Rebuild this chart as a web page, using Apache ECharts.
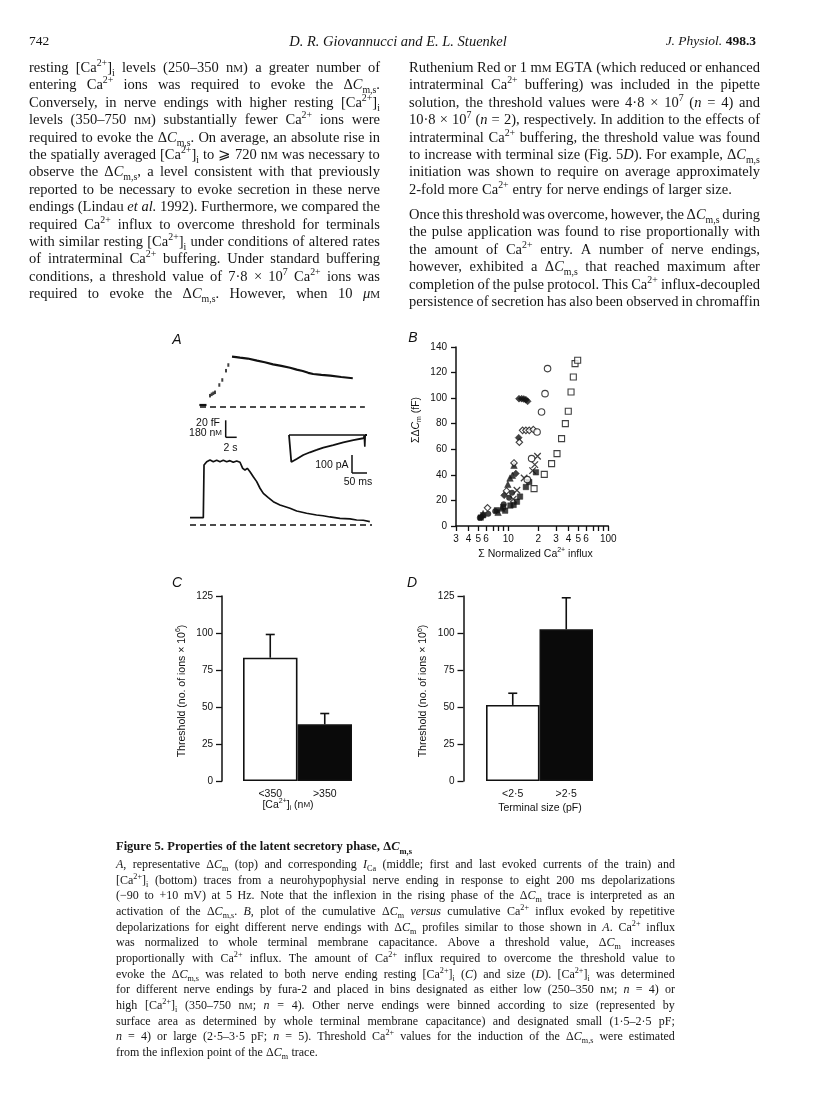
<!DOCTYPE html>
<html><head><meta charset="utf-8">
<script src="https://cdn.jsdelivr.net/npm/echarts@6/dist/echarts.min.js"></script>
<style>
html,body{margin:0;padding:0;background:#fff;}
#page{position:relative;width:816px;height:1110px;overflow:hidden;background:#fff;}
#chart{position:absolute;left:0;top:0;width:816px;height:1110px;}
.ln{position:absolute;display:flex;align-items:baseline;justify-content:space-between;white-space:nowrap;font-family:"Liberation Serif",serif;color:#151515;}
.ln.lf{justify-content:flex-start;column-gap:0.27em;}
.ln sub,.ln sup{font-size:68%;line-height:0;}
.ln small{font-size:76%;}
.hd{position:absolute;font-family:"Liberation Serif",serif;color:#151515;white-space:nowrap;}
</style></head>
<body><div id="page"><div id="chart"></div></div>
<script>
// ---------------- DATA ----------------
// Panel A: top trace, cumulative ΔCm (time s, fF)
const cmBaseline = [[1.7,2.35],[3.0,2.35]];
const cmRiseDots = [[3.64,13.3],[3.94,14.9],[4.24,16.1],[4.55,17.3],[5.33,25.9],[5.87,31.8],[6.55,42.7],[6.97,49.4]];
const cmTrace = [[7.64,59.2],[8.4,58.6],[9.09,58.0],[10.5,57.0],[12.2,54.5],[13.6,52.6],[15.1,50.2],[16.6,48.4],[18.2,46.2],[19.4,44.0],[20.5,42.4],[21.5,40.2],[22.4,38.8],[23.9,37.8],[25.5,36.8],[27.5,35.3],[29.6,33.8]];
const cmZero = [[1.82,0],[31.8,0]];
// Panel A: bottom trace, [Ca2+]i (time s, nM)
const caTrace = [[0,77],[2.42,77],[2.55,635],[3.04,670],[3.64,688],[4.24,670],[4.85,685],[5.45,670],[6.05,685],[6.67,670],[7.27,681],[7.87,664],[8.49,678],[9.09,664],[9.58,600],[10.0,582],[10.42,600],[10.91,564],[11.51,511],[12.13,459],[12.73,389],[13.33,335],[14.24,289],[15.15,247],[16.36,212],[18.18,177],[19.4,148],[21.2,124],[23.0,106],[24.2,98],[25.45,85],[27.27,71],[29.1,64],[30.3,53],[31.5,50],[32.7,35]];
const caZero = [[0,0],[33.1,0]];
// Panel A inset: ICa (ms, pA)
const icaFirst = [[13.3,0],[21,-150],[22.2,-148],[38.9,-133],[61,-111],[83.3,-96],[105.6,-83],[127.8,-70],[161,-56],[194.4,-41],[227.8,-28],[261,-18],[266.7,-15],[268,0],[273.3,0]];
const icaLast = [[13.3,0],[264,0],[266,-65],[267.5,0],[273.3,0]];
// Panel A scale bars
const scaleCm = 20, scaleCa = 180, scaleT = 2, scaleI = 100, scaleMs = 50;

// Panel B: cumulative ΔCm (fF) vs cumulative normalized Ca2+ influx
const bOpenSquares = [[18.1,29.2],[22.9,40.4],[27.1,48.8],[30.7,56.6],[34.1,68.3],[37.2,80.1],[39.8,89.7],[42.4,104.8],[44.7,116.5],[46.5,127],[49.4,129.6]];
const bOpenCircles = [[15.5,36.3],[17.1,52.7],[19.4,73.5],[21.5,89.2],[23.3,103.5],[24.7,123.1]];
const bFilledDiamonds = [[5.4,7.0],[9.1,24.0],[11.9,41.0],[12.7,69.1],[12.8,99.6],[13.6,99.6],[14.3,99.3],[15.0,98.8],[15.6,97.5]];
const bOpenDiamonds = [[6.2,14.2],[9.6,27.4],[11.4,49.3],[12.9,65.5],[13.9,74.8],[15.0,74.8],[16.2,74.8],[17.8,75.4]];
const bTriangles = [[5.6,9.7],[7.9,10.7],[8.6,14],[9.9,32.6],[10.4,37.5],[11.0,39.7],[11.4,47.5]];
const bCrosses = [[11.2,21],[12.2,28],[14.4,37.5],[17.5,43.3],[18.4,48],[19.6,54.5]];
const bFilledSquares = [[5.3,6.6],[5.6,8.4],[7.7,12.3],[8.9,14.9],[9.3,12.0],[10.5,16],[11.3,16.5],[12.2,19.0],[13.1,23],[15.0,30.5],[16.2,34.4],[18.9,42]];
const bFilledCircles = [[5.2,6.4],[6.3,9.5],[7.4,11.5],[9.0,17],[10.2,22],[10.9,26]];
const bXTicks = [3,4,5,6,7,8,9,10,20,30,40,50,60,70,80,90,100];
const bXLabels = [3,4,5,6,10,20,30,40,50,60,100];

// Panel C
const cCategories = ['<350', '>350'];
const cMeans = [83.3, 38.3];
const cSem = [15.7, 7.3];
// Panel D
const dCategories = ['<2·5', '>2·5'];
const dMeans = [51.4, 102.5];
const dSem = [7.9, 21.3];

// ---------------- TEXT ----------------
const headerTexts = ['742', 'D. R. Giovannucci and E. L. Stuenkel', '<i>J. Physiol.</i> <b>498.3</b>'];
const leftColumnLines = [
 'resting [Ca<sup>2+</sup>]<sub>i</sub> levels (250–350 n<small>M</small>) a greater number of',
 'entering Ca<sup>2+</sup> ions was required to evoke the Δ<i>C</i><sub>m,s</sub>.',
 'Conversely, in nerve endings with higher resting [Ca<sup>2+</sup>]<sub>i</sub>',
 'levels (350–750 n<small>M</small>) substantially fewer Ca<sup>2+</sup> ions were',
 'required to evoke the Δ<i>C</i><sub>m,s</sub>. On average, an absolute rise in',
 'the spatially averaged [Ca<sup>2+</sup>]<sub>i</sub> to ⩾ 720 n<small>M</small> was necessary to',
 'observe the Δ<i>C</i><sub>m,s</sub>, a level consistent with that previously',
 'reported to be necessary to evoke secretion in these nerve',
 'endings (Lindau <i>et</i> <i>al.</i> 1992). Furthermore, we compared the',
 'required Ca<sup>2+</sup> influx to overcome threshold for terminals',
 'with similar resting [Ca<sup>2+</sup>]<sub>i</sub> under conditions of altered rates',
 'of intraterminal Ca<sup>2+</sup> buffering. Under standard buffering',
 'conditions, a threshold value of 7·8 × 10<sup>7</sup> Ca<sup>2+</sup> ions was',
 'required to evoke the Δ<i>C</i><sub>m,s</sub>. However, when 10 <i>μ</i><small>M</small>'
];
const rightColumnLines = [
 'Ruthenium Red or 1 m<small>M</small> EGTA (which reduced or enhanced',
 'intraterminal Ca<sup>2+</sup> buffering) was included in the pipette',
 'solution, the threshold values were 4·8 × 10<sup>7</sup> (<i>n</i> = 4) and',
 '10·8 × 10<sup>7</sup> (<i>n</i> = 2), respectively. In addition to the effects of',
 'intraterminal Ca<sup>2+</sup> buffering, the threshold value was found',
 'to increase with terminal size (Fig. 5<i>D</i>). For example, Δ<i>C</i><sub>m,s</sub>',
 'initiation was shown to require on average approximately',
 '2-fold more Ca<sup>2+</sup> entry for nerve endings of larger size.',
 'Once this threshold was overcome, however, the Δ<i>C</i><sub>m,s</sub> during',
 'the pulse application was found to rise proportionally with',
 'the amount of Ca<sup>2+</sup> entry. A number of nerve endings,',
 'however, exhibited a Δ<i>C</i><sub>m,s</sub> that reached maximum after',
 'completion of the pulse protocol. This Ca<sup>2+</sup> influx-decoupled',
 'persistence of secretion has also been observed in chromaffin'
];
const captionLines = [
 '<b>Figure</b> <b>5.</b> <b>Properties</b> <b>of</b> <b>the</b> <b>latent</b> <b>secretory</b> <b>phase,</b> <b>Δ<i>C</i><sub>m,s</sub></b>',
 '<i>A</i>, representative Δ<i>C</i><sub>m</sub> (top) and corresponding <i>I</i><sub>Ca</sub> (middle; first and last evoked currents of the train) and',
 '[Ca<sup>2+</sup>]<sub>i</sub> (bottom) traces from a neurohypophysial nerve ending in response to eight 200 ms depolarizations',
 '(−90 to +10 mV) at 5 Hz. Note that the inflexion in the rising phase of the Δ<i>C</i><sub>m</sub> trace is interpreted as an',
 'activation of the Δ<i>C</i><sub>m,s</sub>. <i>B</i>, plot of the cumulative Δ<i>C</i><sub>m</sub> <i>versus</i> cumulative Ca<sup>2+</sup> influx evoked by repetitive',
 'depolarizations for eight different nerve endings with Δ<i>C</i><sub>m</sub> profiles similar to those shown in <i>A</i>. Ca<sup>2+</sup> influx',
 'was normalized to whole terminal membrane capacitance. Above a threshold value, Δ<i>C</i><sub>m</sub> increases',
 'proportionally with Ca<sup>2+</sup> influx. The amount of Ca<sup>2+</sup> influx required to overcome the threshold value to',
 'evoke the Δ<i>C</i><sub>m,s</sub> was related to both nerve ending resting [Ca<sup>2+</sup>]<sub>i</sub> (<i>C</i>) and size (<i>D</i>). [Ca<sup>2+</sup>]<sub>i</sub> was determined',
 'for different nerve endings by fura-2 and placed in bins designated as either low (250–350 n<small>M</small>; <i>n</i> = 4) or',
 'high [Ca<sup>2+</sup>]<sub>i</sub> (350–750 n<small>M</small>; <i>n</i> = 4). Other nerve endings were binned according to size (represented by',
 'surface area as determined by whole terminal membrane capacitance) and designated small (1·5–2·5 pF;',
 '<i>n</i> = 4) or large (2·5–3·5 pF; <i>n</i> = 5). Threshold Ca<sup>2+</sup> values for the induction of the Δ<i>C</i><sub>m,s</sub> were estimated',
 'from the inflexion point of the Δ<i>C</i><sub>m</sub> trace.'
];

// ---------------- HTML TEXT LAYOUT ----------------
const page = document.getElementById('page');
function addLine(html, x, y, w, fs, justify) {
  const d = document.createElement('div');
  d.className = 'ln' + (justify ? '' : ' lf');
  d.style.left = x + 'px'; d.style.top = (y - 9) + 'px';
  d.style.width = w + 'px'; d.style.height = '18px'; d.style.lineHeight = '18px';
  d.style.fontSize = fs + 'px';
  d.innerHTML = html.split(' ').map(t => '<span>' + t + '</span>').join('');
  page.appendChild(d);
}
function addHeader(html, x, y, align, fs, italic) {
  const d = document.createElement('div');
  d.className = 'hd';
  d.style.top = (y - 9) + 'px'; d.style.lineHeight = '18px'; d.style.fontSize = fs + 'px';
  if (italic) d.style.fontStyle = 'italic';
  if (align === 'left') d.style.left = x + 'px';
  else if (align === 'right') d.style.right = (816 - x) + 'px';
  else { d.style.left = (x - 200) + 'px'; d.style.width = '400px'; d.style.textAlign = 'center'; }
  d.innerHTML = html;
  page.appendChild(d);
}
addHeader(headerTexts[0], 29, 41, 'left', 13.5, false);
addHeader(headerTexts[1], 398, 41, 'center', 14.5, true);
addHeader(headerTexts[2], 756, 41, 'right', 13.5, false);
leftColumnLines.forEach((l, i) => addLine(l, 29, 67 + 17.4 * i, 351, 14.5, true));
rightColumnLines.forEach((l, i) => {
  const y = i < 8 ? 67 + 17.4 * i : 214 + 17.4 * (i - 8);
  addLine(l, 409, y, 351, 14.5, i !== 7);
});
captionLines.forEach((l, i) => {
  const y = i === 0 ? 845.5 : 864 + 15.65 * (i - 1);
  addLine(l, 116, y, 559, i === 0 ? 12.5 : 12, !(i === 0 || i === captionLines.length - 1));
});

// ---------------- ECHARTS ----------------
const chart = echarts.init(document.getElementById('chart'), null, {renderer: 'canvas'});
const K = '#111';
const sans = 'Liberation Sans';
const richBase = {
  t: {fontFamily: sans, fontSize: 10.5, color: K, lineHeight: 14},
  it: {fontFamily: sans, fontSize: 10.5, color: K, fontStyle: 'italic', lineHeight: 14},
  sup: {fontFamily: sans, fontSize: 7, color: K, verticalAlign: 'top', lineHeight: 8},
  sub: {fontFamily: sans, fontSize: 7, color: K, verticalAlign: 'bottom', lineHeight: 8},
  sc: {fontFamily: sans, fontSize: 8, color: K, lineHeight: 14}
};
function gText(text, x, y, opts) {
  opts = opts || {};
  return {type: 'text', x: x, y: y, rotation: opts.rot || 0, z: 10,
    style: {text: text, rich: richBase, align: opts.align || 'center', verticalAlign: 'middle',
      fontFamily: opts.font || sans, fontSize: opts.fs || 10.5, fontStyle: opts.style || 'normal', fill: K}};
}
function gLine(x1, y1, x2, y2) {
  return {type: 'line', shape: {x1, y1, x2, y2}, style: {stroke: K, lineWidth: 1.5}, z: 10};
}
const log10 = v => Math.log10(v);
const toLog = arr => arr.map(p => [log10(p[0]), p[1]]);

const hiddenAxis = (gi, min, max) => ({type: 'value', gridIndex: gi, min, max, show: false, splitLine: {show: false}});
const axisCommon = {
  axisLine: {show: true, lineStyle: {color: K, width: 1.5}},
  axisTick: {show: true, inside: false, length: 6, lineStyle: {color: K, width: 1.3}},
  axisLabel: {color: K, fontFamily: sans, fontSize: 10, margin: 9},
  splitLine: {show: false}
};

function errBar(xi, yi, means, sem) {
  return {type: 'custom', xAxisIndex: xi, yAxisIndex: yi, z: 5,
    data: means.map((m, i) => [i, m, m + sem[i]]),
    renderItem: function (params, api) {
      const a = api.coord([api.value(0), api.value(1)]);
      const b = api.coord([api.value(0), api.value(2)]);
      return {type: 'group', children: [
        {type: 'line', shape: {x1: a[0], y1: a[1], x2: b[0], y2: b[1]}, style: {stroke: K, lineWidth: 1.6}},
        {type: 'line', shape: {x1: b[0] - 4.5, y1: b[1], x2: b[0] + 4.5, y2: b[1]}, style: {stroke: K, lineWidth: 1.6}}
      ]};
    }};
}
const barStyles = [
  {color: '#fff', borderColor: K, borderWidth: 1.6},
  {color: '#0a0a0a', borderColor: K, borderWidth: 1.6}
];

const openStyle = {color: '#fff', borderColor: K, borderWidth: 1.1};
const fillStyle = {color: K, borderColor: K, borderWidth: 0.5};
function sc(data, symbol, size, style) {
  return {type: 'scatter', xAxisIndex: 3, yAxisIndex: 3, data: toLog(data), symbol, symbolSize: size, itemStyle: style, z: 3};
}

// scale bar positions (A) derived from the top/bottom grids
const option = {
  animation: false,
  backgroundColor: 'transparent',
  grid: [
    {left: 190, top: 335, width: 185, height: 75},
    {left: 190, top: 455, width: 185, height: 73},
    {left: 285, top: 430, width: 90, height: 40},
    {left: 456, top: 347, width: 152.3, height: 179},
    {left: 243, top: 596, width: 109, height: 185},
    {left: 486, top: 596, width: 107, height: 185}
  ],
  xAxis: [
    hiddenAxis(0, 0, 33.64),
    hiddenAxis(1, 0, 33.64),
    hiddenAxis(2, 0, 300),
    Object.assign({}, axisCommon, {type: 'value', gridIndex: 3, min: log10(3), max: 2,
      axisTick: Object.assign({}, axisCommon.axisTick, {length: 5, customValues: bXTicks.map(log10)}),
      axisLabel: Object.assign({}, axisCommon.axisLabel, {margin: 8, customValues: bXLabels.map(log10),
        formatter: v => { const r = Math.round(Math.pow(10, v)); return (r >= 20 && r < 100) ? String(r / 10) : String(r); }})}),
    Object.assign({}, axisCommon, {type: 'category', gridIndex: 4, data: cCategories,
      axisLine: {show: false}, axisTick: {show: false},
      axisLabel: {color: K, fontFamily: sans, fontSize: 10.5, margin: 8}}),
    Object.assign({}, axisCommon, {type: 'category', gridIndex: 5, data: dCategories,
      axisLine: {show: false}, axisTick: {show: false},
      axisLabel: {color: K, fontFamily: sans, fontSize: 10.5, margin: 8}})
  ],
  yAxis: [
    hiddenAxis(0, -3.53, 84.7),
    hiddenAxis(1, -31.8, 741),
    hiddenAxis(2, -194.4, 27.8),
    Object.assign({}, axisCommon, {type: 'value', gridIndex: 3, min: 0, max: 140, interval: 20,
      axisTick: Object.assign({}, axisCommon.axisTick, {length: 5})}),
    Object.assign({}, axisCommon, {type: 'value', gridIndex: 4, min: 0, max: 125, interval: 25, offset: 21}),
    Object.assign({}, axisCommon, {type: 'value', gridIndex: 5, min: 0, max: 125, interval: 25, offset: 22.5})
  ],
  series: [
    // Panel A top
    {type: 'line', xAxisIndex: 0, yAxisIndex: 0, data: cmZero, symbol: 'none', lineStyle: {color: K, width: 1.6, type: [6, 4]}},
    {type: 'line', xAxisIndex: 0, yAxisIndex: 0, data: cmBaseline, symbol: 'none', lineStyle: {color: K, width: 2.2}},
    {type: 'scatter', xAxisIndex: 0, yAxisIndex: 0, data: cmRiseDots, symbol: 'rect', symbolSize: [2, 3.5], itemStyle: {color: K}},
    {type: 'line', xAxisIndex: 0, yAxisIndex: 0, data: cmTrace, symbol: 'none', lineStyle: {color: K, width: 2.2}},
    // Panel A bottom
    {type: 'line', xAxisIndex: 1, yAxisIndex: 1, data: caZero, symbol: 'none', lineStyle: {color: K, width: 1.6, type: [6, 4]}},
    {type: 'line', xAxisIndex: 1, yAxisIndex: 1, data: caTrace, symbol: 'none', lineStyle: {color: K, width: 1.7}},
    // Panel A inset
    {type: 'line', xAxisIndex: 2, yAxisIndex: 2, data: icaLast, symbol: 'none', lineStyle: {color: K, width: 1.6}},
    {type: 'line', xAxisIndex: 2, yAxisIndex: 2, data: icaFirst, symbol: 'none', lineStyle: {color: K, width: 1.8}},
    // Panel B
    sc(bFilledSquares, 'rect', 5.5, fillStyle),
    sc(bFilledCircles, 'circle', 5.5, fillStyle),
    sc(bTriangles, 'triangle', 6.5, fillStyle),
    sc(bFilledDiamonds, 'diamond', 7, fillStyle),
    sc(bOpenDiamonds, 'diamond', 6.5, openStyle),
    sc(bCrosses, 'path://M0,0L10,10M10,0L0,10', 6.5, {color: 'none', borderColor: K, borderWidth: 1.3}),
    sc(bOpenCircles, 'circle', 6.5, openStyle),
    sc(bOpenSquares, 'rect', 6, openStyle),
    // Panel C
    {type: 'bar', xAxisIndex: 4, yAxisIndex: 4, barWidth: '100%', barCategoryGap: 0, z: 2,
      data: cMeans.map((v, i) => ({value: v, itemStyle: barStyles[i]}))},
    errBar(4, 4, cMeans, cSem),
    // Panel D
    {type: 'bar', xAxisIndex: 5, yAxisIndex: 5, barWidth: '100%', barCategoryGap: 0, z: 2,
      data: dMeans.map((v, i) => ({value: v, itemStyle: barStyles[i]}))},
    errBar(5, 5, dMeans, dSem)
  ]
};
chart.setOption(option);

// Annotations (scale bars, titles, panel letters) using grid->pixel conversion
function px(gi, xv, yv) { return chart.convertToPixel({gridIndex: gi}, [xv, yv]); }
const sb0 = px(0, 6.5, 0);  // dummy for x origin of scale bar
const barX = 225.7, barYb = 437.3;
const cmPx = px(0, 0, scaleCm)[1] - px(0, 0, 0)[1];
const tPx = px(0, scaleT, 0)[0] - px(0, 0, 0)[0];
const iPx = px(2, 0, scaleI)[1] - px(2, 0, 0)[1];
const msPx = px(2, scaleMs, 0)[0] - px(2, 0, 0)[0];
const ib = {x: 352, y: 473};
const graphics = [
  gLine(barX, barYb, barX, barYb + cmPx),
  gLine(barX, barYb, barX + tPx, barYb),
  gLine(ib.x, ib.y, ib.x, ib.y + iPx),
  gLine(ib.x, ib.y, ib.x + msPx, ib.y),
  gText('20 fF', 220, 423.5, {align: 'right'}),
  gText('{t|180 n}{sc|M}', 222, 433, {align: 'right'}),
  gText('2 s', 230.5, 448),
  gText('100 pA', 348.5, 465, {align: 'right'}),
  gText('50 ms', 358, 482),
  gText('A', 177, 340, {font: 'Liberation Sans', fs: 14, style: 'italic'}),
  gText('B', 413, 338, {font: 'Liberation Sans', fs: 14, style: 'italic'}),
  gText('C', 177, 583, {font: 'Liberation Sans', fs: 14, style: 'italic'}),
  gText('D', 412, 583, {font: 'Liberation Sans', fs: 14, style: 'italic'}),
  gText('{t|ΣΔ}{it|C}{sub|m}{t| (fF)}', 416, 420, {rot: Math.PI / 2}),
  gText('{t|Σ Normalized Ca}{sup|2+}{t| influx}', 535.5, 554),
  gText('{t|Threshold (no. of ions × 10}{sup|6}{t|)}', 182, 691, {rot: Math.PI / 2}),
  gText('{t|Threshold (no. of ions × 10}{sup|6}{t|)}', 423.5, 691, {rot: Math.PI / 2}),
  gText('{t|[Ca}{sup|2+}{t|]}{sub|i}{t| (n}{sc|M}{t|)}', 288, 805),
  gText('Terminal size (pF)', 540, 808)
];
chart.setOption({graphic: graphics});
</script>
</body></html>
